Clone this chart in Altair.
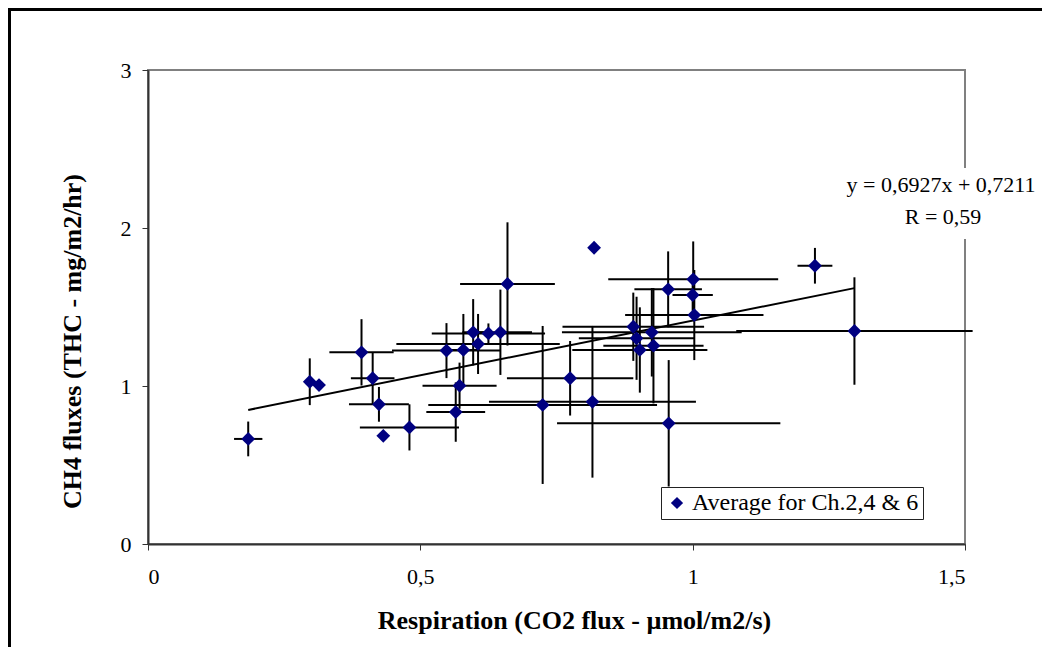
import altair as alt
import pandas as pd

# ---- data ----
resp_x = [0.184, 0.297, 0.314, 0.392, 0.4125, 0.424, 0.432, 0.48, 0.548, 0.565,
          0.572, 0.579, 0.597, 0.606, 0.625, 0.647, 0.66, 0.7246, 0.775, 0.816,
          0.819, 0.891, 0.897, 0.903, 0.925, 0.928, 0.955, 0.956, 1.001, 1.0,
          1.003, 1.2245, 1.297]
ch4_y = [0.665, 1.027, 1.006, 1.213, 1.049, 0.884, 0.685, 0.738, 1.224, 0.835,
         1.002, 1.228, 1.34, 1.266, 1.333, 1.34, 1.646, 0.88, 1.049, 0.9,
         1.875, 1.375, 1.302, 1.228, 1.34, 1.255, 1.612, 0.764, 1.675, 1.576,
         1.449, 1.761, 1.348]
resp_err = [0.026, 0.0, 0.0, 0.059, 0.04, 0.055, 0.0, 0.091, 0.1, 0.054,
            0.068, 0.03, 0.02, 0.15, 0.104, 0.058, 0.087, 0.21, 0.116, 0.19,
            0.0, 0.13, 0.106, 0.124, 0.165, 0.092, 0.062, 0.205, 0.156, 0.037,
            0.127, 0.032, 0.217]
ch4_err = [0.11, 0.148, 0.0, 0.21, 0.165, 0.11, 0.0, 0.146, 0.174, 0.188,
           0.146, 0.228, 0.21, 0.19, 0.063, 0.27, 0.39, 0.5, 0.236, 0.48,
           0.0, 0.216, 0.263, 0.27, 0.28, 0.365, 0.24, 0.4, 0.24, 0.1,
           0.285, 0.113, 0.34]
series_name = "Average for Ch.2,4 & 6"
slope = 0.6927
intercept = 0.7211
eq_text = "y = 0,6927x + 0,7211"
r_text = "R = 0,59"
x_ticks = [0, 0.5, 1, 1.5]
y_ticks = [0, 1, 2, 3]
x_title = "Respiration (CO2 flux - µmol/m2/s)"
y_title = "CH4 fluxes (THC - mg/m2/hr)"

FONT = "Liberation Serif"
NAVY = "#000080"
LBL = 22
TTL = 26

df = pd.DataFrame({"x": resp_x, "y": ch4_y, "xe": resp_err, "ye": ch4_err})
df["series"] = series_name
df["x_lo"] = df["x"] - df["xe"]
df["x_hi"] = df["x"] + df["xe"]
df["y_lo"] = df["y"] - df["ye"]
df["y_hi"] = df["y"] + df["ye"]

tx = [min(resp_x), max(resp_x)]
trend = pd.DataFrame({"x": tx, "y": [slope * v + intercept for v in tx]})

W, H = 817, 474
xs = alt.Scale(domain=[0, 1.5], nice=False, zero=False)
ys = alt.Scale(domain=[0, 3], nice=False, zero=False)
label_expr = "replace(format(datum.value, ''), '.', ',')"

x_axis = alt.Axis(values=x_ticks, labelExpr=label_expr, title=x_title, grid=False,
                  tickSize=6, labelPadding=16, labelFontSize=LBL, labelFont=FONT,
                  labelColor="black", domainColor="#333333", tickColor="#333333",
                  domainWidth=2, titleFont=FONT, titleFontSize=TTL, titleFontWeight="bold",
                  titleColor="black", titleX=426, titleY=76, titleBaseline="middle",
                  titleAlign="center")
y_axis = alt.Axis(values=y_ticks, labelExpr=label_expr, title=y_title, grid=False,
                  tickSize=6, labelPadding=11, labelFontSize=LBL, labelFont=FONT,
                  labelColor="black", domainColor="#333333", tickColor="#333333",
                  domainWidth=2, titleFont=FONT, titleFontSize=TTL, titleFontWeight="bold",
                  titleColor="black", titleAngle=-90, titleX=-76, titleY=271,
                  titleBaseline="middle", titleAlign="center")

base = alt.Chart(df)

xbars = base.mark_rule(color="black", strokeWidth=2).encode(
    x=alt.X("x_lo:Q", scale=xs, axis=x_axis), x2="x_hi:Q",
    y=alt.Y("y:Q", scale=ys, axis=y_axis))
ybars = base.mark_rule(color="black", strokeWidth=2).encode(
    x=alt.X("x:Q", scale=xs), y=alt.Y("y_lo:Q", scale=ys), y2="y_hi:Q")

trend_line = alt.Chart(trend).mark_line(color="black", strokeWidth=2).encode(
    x=alt.X("x:Q", scale=xs), y=alt.Y("y:Q", scale=ys))

points = base.mark_point(shape="diamond", filled=True, size=190, opacity=1).encode(
    x=alt.X("x:Q", scale=xs), y=alt.Y("y:Q", scale=ys),
    color=alt.Color("series:N", scale=alt.Scale(domain=[series_name], range=[NAVY]),
                    legend=alt.Legend(title=None, orient="none", legendX=513, legendY=417,
                                      symbolType="diamond", symbolSize=150,
                                      labelFont=FONT, labelFontSize=24, labelColor="black",
                                      labelLimit=0, strokeColor="#222222", fillColor="white",
                                      padding=4, labelOffset=3)))

one = pd.DataFrame({"a": [0]})
white_box = alt.Chart(one).mark_rect(color="white").encode(
    x=alt.value(695), x2=alt.value(893), y=alt.value(98), y2=alt.value(169))
eq_label = alt.Chart(pd.DataFrame({"t": [eq_text]})).mark_text(
    font=FONT, fontSize=LBL, color="black", align="center", baseline="middle").encode(
    text="t:N", x=alt.value(793), y=alt.value(115))
r_label = alt.Chart(pd.DataFrame({"t": [r_text]})).mark_text(
    font=FONT, fontSize=LBL, color="black", align="center", baseline="middle").encode(
    text="t:N", x=alt.value(795), y=alt.value(147))

border_top = alt.Chart(one).mark_rule(color="black", strokeWidth=3).encode(
    x=alt.value(-140), x2=alt.value(900), y=alt.value(-60.5))
border_left = alt.Chart(one).mark_rule(color="black", strokeWidth=3).encode(
    x=alt.value(-138.5), y=alt.value(-62), y2=alt.value(600))

chart = alt.layer(
    white_box, xbars, ybars, trend_line, points, eq_label, r_label, border_top, border_left
).properties(
    width=W, height=H,
    autosize=alt.AutoSizeParams(type="none"),
    padding={"left": 140, "top": 62, "right": 77, "bottom": 103},
    background="white",
).configure_view(stroke="#808080", strokeWidth=2)

chart.save("out.html", embed_options={"renderer": "svg", "actions": False})
